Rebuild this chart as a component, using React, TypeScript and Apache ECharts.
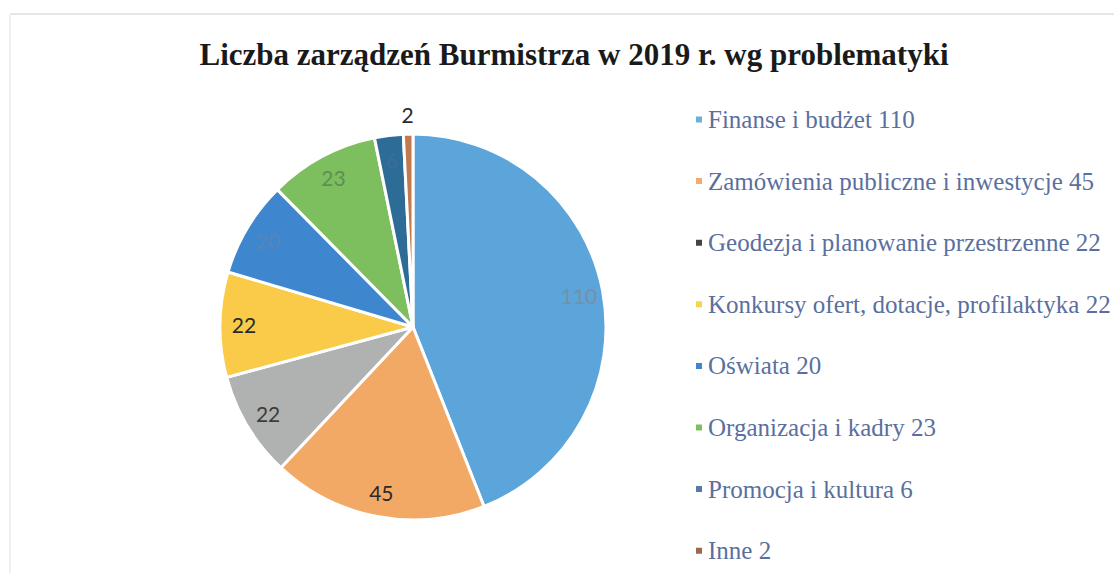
import React, { useEffect, useRef } from "react";
import * as echarts from "echarts";

const titleText = "Liczba zarządzeń Burmistrza w 2019 r. wg problematyki";
const categories = [
  "Finanse i budżet",
  "Zamówienia publiczne i inwestycje",
  "Geodezja i planowanie przestrzenne",
  "Konkursy ofert, dotacje, profilaktyka",
  "Oświata",
  "Organizacja i kadry",
  "Promocja i kultura",
  "Inne",
];
const values = [110, 45, 22, 22, 20, 23, 6, 2];
const sliceColors = ["#5ca5da", "#f3a966", "#b0b2b2", "#f9cb48", "#3e87cf", "#7dbe5f", "#2e6c98", "#c07a4e"];
const legendIconColors = ["#6db0de", "#f3ac70", "#444444", "#f5d64a", "#3e87cf", "#7dbe5f", "#5a7aa6", "#9a6a48"];
const labelColors = ["#7590a6", "#2a2a2a", "#3c3c3c", "#2a2a2a", "#5585b8", "#5d9050", "#3a6e96", "#2a2a2a"];

export default function App() {
  const ref = useRef<HTMLDivElement>(null);
  useEffect(() => {
    if (!ref.current) return;
    const chart = echarts.init(ref.current, null, { renderer: "svg" });
    const center = [413, 327];
    const radius = 193;
    chart.setOption({
      animation: false,
      backgroundColor: "#ffffff",
      title: {
        text: titleText,
        left: 569,
        top: 34,
        textAlign: "center",
        textStyle: {
          fontFamily: "Liberation Serif",
          fontWeight: "bold",
          fontSize: 31,
          color: "#1a1a1a",
        },
      },
      legend: {
        orient: "vertical",
        left: 694,
        top: 107,
        padding: 0,
        itemWidth: 8,
        itemHeight: 8,
        itemGap: 36.6,
        icon: "rect",
        data: categories.map((c, i) => ({ name: c, itemStyle: { color: legendIconColors[i] } })),
        formatter: (name: string) => {
          const i = categories.indexOf(name);
          return name + " " + values[i];
        },
        textStyle: {
          fontFamily: "Liberation Serif",
          fontSize: 25,
          lineHeight: 25,
          color: "#5a6f9e",
        },
      },
      graphic: [
        { type: "line", shape: { x1: 10, y1: 14, x2: 1114, y2: 14 }, style: { stroke: "#e6e6e6", lineWidth: 2 }, silent: true },
        { type: "line", shape: { x1: 10, y1: 14, x2: 10, y2: 573 }, style: { stroke: "#f0f0f0", lineWidth: 2 }, silent: true },
      ],
      series: [
        {
          type: "pie",
          center,
          radius,
          startAngle: 90,
          clockwise: true,
          label: { show: false },
          labelLine: { show: false },
          emphasis: { disabled: true },
          itemStyle: { borderColor: "#ffffff", borderWidth: 3 },
          data: categories.map((c, i) => ({ name: c, value: values[i], itemStyle: { color: sliceColors[i] } })),
        },
        {
          type: "pie",
          center,
          radius: [radius * 0.72, radius],
          startAngle: 90,
          clockwise: true,
          silent: true,
          legendHoverLink: false,
          emphasis: { disabled: true },
          itemStyle: { color: "rgba(0,0,0,0)", borderWidth: 0 },
          labelLine: { show: false, length: 20, length2: 0 },
          label: {
            show: true,
            position: "inside",
            formatter: "{c}",
            fontFamily: "Lato",
            fontSize: 21,
          },
          data: categories.map((c, i) => ({
            name: c + " ",
            value: values[i],
            label:
              i === categories.length - 1
                ? {
                    position: "outside",
                    distanceToLabelLine: -6,
                    color: labelColors[i],
                    fontFamily: "Lato",
                    fontSize: 21,
                  }
                : { color: labelColors[i] },
          })),
        },
      ],
    });
    return () => chart.dispose();
  }, []);
  return (
    <div
      ref={ref}
      style={{ position: "absolute", left: 0, top: 0, width: 1114, height: 573 }}
    />
  );
}
